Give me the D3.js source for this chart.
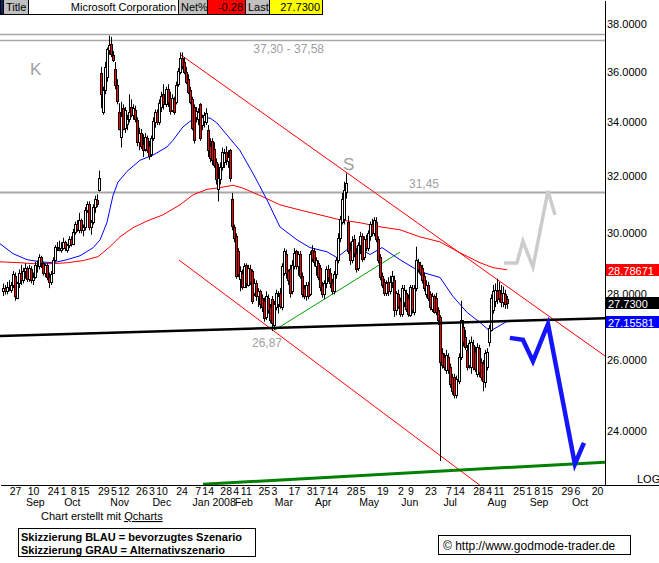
<!DOCTYPE html>
<html>
<head>
<meta charset="utf-8">
<script src="https://cdn.jsdelivr.net/npm/d3@7"></script>
<style>
  body { margin: 0; background: #fff; }
  svg { display: block; }
  text { font-family: "Liberation Sans", Arial, sans-serif; }
</style>
</head>
<body>
<svg id="chart" width="659" height="563"></svg>
<script>
// trading calendar
var firstDay = '2007-08-17';
var holidays = ['2007-09-03', '2007-11-22', '2007-12-25', '2008-01-01', '2008-01-21',
  '2008-02-18', '2008-03-21', '2008-05-26', '2008-07-04', '2008-09-01'];

// daily candles [open, high, low, close], one per trading day from firstDay
var candles = [
  [28.10,28.35,27.95,28.20],[28.20,28.30,28.00,28.10],[28.10,28.40,28.00,28.25],[28.25,28.45,28.10,28.20],
  [28.15,28.40,28.05,28.30],[28.30,28.75,28.20,28.65],[28.60,28.70,27.80,27.95],[27.90,28.40,27.85,28.35],
  [28.35,28.80,28.20,28.70],[28.70,28.95,28.30,28.45],[28.45,28.85,28.35,28.75],[28.75,29.00,28.50,28.85],
  [28.85,28.90,28.40,28.50],[28.50,28.95,28.40,28.85],[28.80,28.90,28.35,28.45],[28.45,28.70,28.30,28.55],
  [28.55,29.05,28.50,28.95],[28.95,29.10,28.70,28.90],[28.90,29.30,28.80,29.20],[29.20,29.25,28.85,29.00],
  [29.00,29.05,28.60,28.70],[28.70,29.00,28.55,28.95],[28.95,29.00,28.45,28.55],[28.55,28.70,28.20,28.40],
  [28.40,28.75,28.30,28.65],[28.70,29.20,28.65,29.10],[29.10,29.60,29.05,29.55],[29.55,29.70,29.40,29.50],
  [29.50,29.75,29.40,29.45],[29.45,29.70,29.35,29.50],[29.50,29.85,29.45,29.70],[29.70,29.75,29.40,29.50],
  [29.45,29.65,29.35,29.60],[29.60,29.90,29.50,29.80],[29.80,29.90,29.55,29.65],[29.65,30.15,29.60,30.05],
  [30.05,30.40,29.95,30.30],[30.30,30.45,30.05,30.15],[30.10,30.70,30.00,30.45],[30.45,30.50,30.00,30.10],
  [30.10,30.30,29.90,30.20],[30.20,30.90,30.10,30.80],[30.80,31.10,30.70,31.00],[31.00,31.10,30.10,30.20],
  [30.20,30.45,29.95,30.40],[30.40,31.00,30.30,30.90],[30.90,31.30,30.70,31.20],[31.15,31.35,30.90,31.00],
  [31.50,32.20,31.45,31.95],[35.95,36.20,34.55,35.10],[34.40,35.40,34.30,35.25],[35.25,36.40,35.10,36.20],
  [35.80,37.00,35.60,36.95],[36.90,37.50,36.70,37.10],[37.15,37.45,36.60,36.75],[36.70,36.85,36.40,36.50],
  [36.10,36.40,35.30,35.45],[35.45,35.70,34.70,34.85],[34.40,34.75,33.70,33.75],[33.45,34.80,33.05,34.25],
  [34.55,34.70,33.70,33.75],[33.80,34.60,33.60,34.50],[33.95,34.30,33.70,34.15],[34.15,35.10,34.00,34.40],
  [34.60,34.90,34.20,34.30],[34.30,34.70,34.10,34.55],[34.50,34.65,34.00,34.15],[34.10,34.20,33.10,33.25],
  [33.25,33.80,32.95,33.60],[33.60,33.75,33.00,33.10],[33.20,33.55,32.70,32.95],[33.00,33.60,32.90,33.45],
  [33.40,33.50,32.85,32.95],[33.10,33.30,32.60,32.75],[32.80,33.50,32.70,33.40],[33.40,34.20,33.30,34.05],
  [34.00,34.50,33.80,34.40],[34.40,34.50,33.90,34.00],[34.00,34.90,33.90,34.75],[34.60,35.20,34.40,35.05],
  [35.10,35.50,34.50,34.70],[34.70,35.40,34.60,35.30],[35.30,35.50,34.60,34.80],[34.95,35.20,34.30,34.45],
  [34.50,35.10,34.40,34.95],[34.90,35.00,34.30,34.40],[34.80,35.60,34.70,35.45],[35.50,36.15,35.40,36.05],
  [36.00,36.80,35.90,36.55],[36.55,36.80,36.10,36.25],[36.40,36.60,35.90,36.00],[36.00,36.20,35.50,35.60],
  [35.70,35.90,35.10,35.20],[35.25,35.40,34.70,34.80],[34.90,35.00,33.70,33.80],[34.60,34.70,33.20,33.35],
  [34.20,34.60,34.00,34.45],[34.15,34.55,33.90,34.40],[34.70,34.75,33.30,33.40],[33.90,34.30,33.70,34.20],
  [34.05,34.40,33.80,34.30],[34.00,34.55,33.90,34.35],[33.70,33.90,32.70,32.95],[33.10,33.40,32.50,32.65],
  [33.30,33.40,32.40,32.60],[33.00,33.25,32.30,32.40],[32.50,32.65,31.70,31.90],[31.55,32.45,31.10,31.95],
  [31.90,32.50,31.70,32.35],[32.35,33.05,32.20,32.90],[32.50,33.00,32.30,32.85],[32.90,33.10,32.40,32.60],
  [32.55,32.95,32.30,32.70],[32.95,33.00,31.80,31.95],[31.20,31.40,30.10,30.25],[30.20,30.30,29.70,29.85],
  [29.90,30.00,28.50,28.60],[29.40,29.50,28.55,28.65],[28.50,28.90,28.10,28.75],[28.70,28.80,28.15,28.25],
  [28.25,29.00,28.20,28.90],[28.95,29.00,28.20,28.35],[28.30,28.95,28.25,28.85],[28.80,28.95,28.30,28.40],
  [28.75,28.80,27.70,27.80],[28.05,28.50,27.95,28.35],[28.35,28.45,27.80,27.95],[27.95,28.20,27.60,28.10],
  [28.10,28.15,27.55,27.70],[27.90,28.00,27.45,27.60],[27.80,27.90,27.15,27.25],[27.30,28.10,27.20,27.95],
  [27.90,28.00,27.40,27.50],[27.60,27.70,27.10,27.20],[27.85,27.95,26.87,27.10],[27.05,27.80,26.90,27.70],
  [27.60,28.15,27.50,28.05],[27.70,28.10,27.40,27.95],[28.05,28.20,27.55,27.65],[27.60,29.00,27.50,28.90],
  [28.70,29.50,28.60,29.40],[29.30,29.45,28.50,28.70],[28.75,28.80,28.30,28.45],[28.80,28.95,27.90,28.05],
  [28.10,29.10,28.00,28.95],[28.90,29.50,28.80,29.35],[29.40,29.45,28.80,28.90],[28.90,29.40,28.60,29.30],
  [29.30,29.40,28.50,28.60],[28.60,28.70,27.90,28.00],[28.20,28.30,27.85,27.95],[27.95,28.40,27.80,28.30],
  [28.30,28.40,27.85,27.95],[28.00,29.40,27.95,29.30],[29.45,29.60,29.05,29.15],[29.40,29.50,28.90,29.05],
  [28.90,29.20,28.60,29.10],[29.00,29.10,28.45,28.55],[28.85,28.95,28.10,28.25],[28.30,28.40,27.90,28.00],
  [28.00,28.45,27.85,28.35],[28.35,28.90,28.20,28.80],[28.80,28.95,28.40,28.55],[28.70,28.85,28.20,28.35],
  [28.40,28.50,28.00,28.10],[28.10,28.75,28.00,28.65],[28.65,29.20,28.50,29.10],[29.10,30.00,29.00,29.85],
  [29.85,30.60,29.70,30.50],[30.40,31.40,30.30,31.20],[30.50,31.80,30.30,31.50],[31.45,32.10,31.20,31.75],
  [30.40,30.60,29.30,29.40],[29.45,29.70,28.95,29.10],[29.10,29.90,29.00,29.75],[29.80,29.95,29.20,29.35],
  [29.35,29.50,28.70,28.80],[28.85,29.70,28.75,29.60],[29.60,30.05,29.30,29.90],[29.90,30.00,29.05,29.15],
  [29.20,29.90,29.10,29.80],[29.80,29.95,29.40,29.50],[29.50,30.10,29.40,30.00],[29.90,30.40,29.75,30.30],
  [30.30,30.50,29.90,30.00],[30.00,30.55,29.90,30.45],[30.40,30.55,29.70,29.80],[29.80,29.90,29.00,29.10],
  [29.20,29.30,28.45,28.55],[28.60,28.70,28.20,28.30],[28.40,28.50,27.95,28.05],[28.05,28.45,27.95,28.35],
  [28.40,28.55,27.95,28.10],[28.10,28.60,28.00,28.40],[28.40,28.75,28.20,28.60],[28.45,28.60,27.30,27.50],
  [27.50,28.10,27.35,28.05],[28.00,28.15,27.55,27.65],[27.80,27.90,27.30,27.40],[27.40,28.30,27.30,28.20],
  [27.75,28.30,27.60,28.15],[28.05,28.15,27.45,27.55],[27.90,28.00,27.30,27.40],[27.35,28.30,27.30,28.25],
  [28.20,28.30,27.40,27.50],[27.45,28.30,27.35,28.20],[28.20,29.55,28.10,29.10],[29.05,29.15,28.70,28.80],
  [28.95,29.05,28.60,28.70],[28.85,28.95,28.35,28.45],[28.60,28.70,28.10,28.20],[28.00,28.45,27.90,28.30],
  [28.30,28.40,27.80,27.90],[28.00,28.10,27.50,27.60],[27.55,28.05,27.45,27.95],[27.95,28.00,27.40,27.45],
  [27.90,28.05,27.35,27.45],[27.50,27.60,27.05,27.20],[27.30,27.35,23.20,25.95],[26.20,26.35,25.75,25.85],
  [26.10,26.20,25.70,25.80],[25.70,26.30,25.60,26.15],[26.10,26.20,25.60,25.70],[25.80,25.90,25.20,25.30],
  [25.50,25.60,25.00,25.10],[25.50,25.60,24.90,25.00],[25.00,25.55,24.90,25.45],[25.40,26.20,25.30,26.10],
  [26.10,27.80,26.00,27.20],[27.00,27.20,26.40,26.55],[26.70,26.90,26.30,26.40],[26.30,26.45,25.70,25.80],
  [25.85,26.60,25.75,26.50],[25.80,26.70,25.60,26.55],[26.45,26.60,25.70,25.80],[26.25,26.40,25.65,25.75],
  [25.60,26.50,25.50,26.40],[26.35,26.45,25.50,25.65],[25.95,26.05,25.40,25.50],[25.90,26.00,25.10,25.40],
  [25.35,26.30,25.20,26.20],[25.80,26.35,25.70,26.25],[26.55,27.05,26.40,26.95],[26.90,28.00,26.85,27.90],
  [27.50,28.30,27.40,28.10],[27.80,28.35,27.60,28.15],[28.10,28.50,27.70,27.85],[28.15,28.40,27.75,27.90],
  [28.05,28.30,27.60,27.75],[27.75,28.25,27.60,28.05],[28.00,28.15,27.55,27.70],[27.85,27.95,27.55,27.73]
];

// moving averages, [trading day, value]
var blueAverage = [[-1.5,29.65],[5,29.32],[12,29.12],[18.5,29.05],[25,29.02],[32,29.12],[38.4,29.25],
  [45,29.52],[48.4,29.78],[51.8,30.36],[54.8,31.30],[57.3,31.78],[61.8,32.17],[68.3,32.58],[74.8,32.77],
  [81.7,33.07],[84.7,33.32],[89.7,33.83],[94.7,34.13],[99.7,34.17],[103.2,34.17],[106.6,33.98],
  [118,32.95],[124.6,32.10],[131.6,31.15],[138,30.22],[146.5,29.78],[153,29.52],[161.5,29.38],
  [166.4,29.19],[171.4,29.45],[176.4,29.55],[182.9,29.29],[188.9,29.52],[197.8,29.12],[207.8,28.73],
  [217.8,28.54],[224.2,27.94],[231.2,27.44],[237.7,27.13],[242.7,26.86],[251.1,27.16]];
var redAverage = [[-1.5,29.05],[8.5,29.02],[15,28.99],[25,28.99],[32,29.02],[40,29.09],[47.4,29.22],
  [53.3,29.55],[58.3,29.88],[64.8,30.19],[71.8,30.42],[79.7,30.63],[88.2,30.98],[94.7,31.33],
  [101.7,31.53],[106.6,31.57],[114.6,31.67],[119.6,31.57],[129.6,31.26],[138,30.98],[148,30.80],
  [158,30.63],[168,30.46],[177.9,30.36],[187.9,30.22],[197.8,30.12],[207.8,29.88],[217.8,29.71],
  [227.7,29.35],[237.7,29.02],[244.2,28.86],[251.1,28.79]];

// drawn trend lines, [trading day, price]
var supportLine = [[-1.47,26.72],[300,27.26]];
var channelTop = [[88.7,36.69],[300,26.12]];
var channelBottom = [[87.7,29.11],[242.7,22.38]];
var risingLine = [[135.5,26.90],[197.8,29.37]];
var longSupport = [[99.7,22.60],[300,23.17]];
var levels = [37.58, 37.30, 31.45];

// scenarios
var blueScenario = [[252.6,26.66],[259.1,26.60],[264.1,25.97],[271.6,27.08],[285,23.12],[289.5,23.68]];
var greyScenario = [[249.6,29.01],[256.1,29.01],[259.1,29.74],[264.1,28.88],[271.6,31.47],[275.1,30.63]];

// axes
var priceTicks = [38, 36, 34, 32, 30, 28, 26, 24];
var dayTicks = ['2007-08-27','2007-09-10','2007-09-24','2007-10-01','2007-10-08','2007-10-15',
  '2007-10-29','2007-11-05','2007-11-12','2007-11-26','2007-12-03','2007-12-10','2007-12-24',
  '2008-01-07','2008-01-14','2008-01-28','2008-02-04','2008-02-11','2008-02-25','2008-03-03',
  '2008-03-17','2008-03-31','2008-04-07','2008-04-14','2008-04-28','2008-05-05','2008-05-19',
  '2008-06-02','2008-06-09','2008-06-23','2008-07-07','2008-07-14','2008-07-28','2008-08-04',
  '2008-08-11','2008-08-25','2008-09-01','2008-09-08','2008-09-15','2008-09-29','2008-10-06','2008-10-20'];
var monthStarts = ['2007-09-01','2007-10-01','2007-11-01','2007-12-01','2008-01-01','2008-02-01','2008-03-01',
  '2008-04-01','2008-05-01','2008-06-01','2008-07-01','2008-08-01','2008-09-01','2008-10-01'];
var monthNames = ['Sep','Oct','Nov','Dec','Jan 2008','Feb','Mar','Apr','May','Jun','Jul','Aug','Sep','Oct'];

var markerValues = [28.78671, 27.73, 27.15581];
var markerLabels = ['28.78671', '27.7300', '27.15581'];
var markerColors = ['#ff0000', '#000000', '#0000ff'];

var headerCells = [
  {x: 0, w: 3, fill: '#0a246a', text: ''},
  {x: 3, w: 25, fill: '#c0c0c0', text: 'Title', anchor: 'start'},
  {x: 28, w: 150, fill: '#ffffff', text: 'Microsoft Corporation', anchor: 'end'},
  {x: 178, w: 29, fill: '#c0c0c0', text: 'Net%', anchor: 'start'},
  {x: 207, w: 38, fill: '#ff0000', text: '-0.28', anchor: 'end'},
  {x: 245, w: 24, fill: '#c0c0c0', text: 'Last', anchor: 'start'},
  {x: 269, w: 53, fill: '#ffff00', text: '27.7300', anchor: 'end'}
];

var parseDay = d3.utcParse('%Y-%m-%d');
var fmtDay = d3.utcFormat('%Y-%m-%d');
var days = [];
for (var d = parseDay(firstDay); days.length < 330; d = d3.utcDay.offset(d, 1)) {
  var wd = d.getUTCDay();
  if (wd === 0 || wd === 6 || holidays.indexOf(fmtDay(d)) >= 0) continue;
  days.push(d);
}
var posOf = function(s) {
  var t = parseDay(s);
  return days.findIndex(function(day) { return day >= t; });
};

var plotW = 605, plotH = 485;
var svg = d3.select('#chart');
var x = d3.scaleLinear().domain([-1.47, 300]).range([0, plotW]);
var y = d3.scaleLog().domain([22.58, 39.04]).range([plotH, 0]);

svg.append('defs').append('clipPath').attr('id', 'plot')
  .append('rect').attr('width', plotW).attr('height', plotH);

var plot = svg.append('g').attr('clip-path', 'url(#plot)');
var line = d3.line().x(function(p) { return x(p[0]); }).y(function(p) { return y(p[1]); });

// horizontal levels
plot.selectAll('.level').data(levels).enter().append('line')
  .attr('x1', 0).attr('x2', plotW)
  .attr('y1', function(v) { return Math.round(y(v)) + 0.5; })
  .attr('y2', function(v) { return Math.round(y(v)) + 0.5; })
  .attr('stroke', '#a8a8a8')
  .attr('stroke-width', function(v, i) { return i == 2 ? 2 : 1.5; });

// thin lines behind the candles
[[channelTop, '#ff0000'], [channelBottom, '#ff0000'], [risingLine, '#00a000'],
 [redAverage, '#ff0000'], [blueAverage, '#0000ff']].forEach(function(l) {
  plot.append('path').datum(l[0])
    .attr('d', line)
    .attr('fill', 'none').attr('stroke', l[1]).attr('stroke-width', 1);
});

// candles
var bars = plot.selectAll('.bar').data(candles).enter().append('g').attr('class', 'bar');
bars.append('line')
  .attr('x1', function(c, i) { return Math.round(x(i)) + 0.5; })
  .attr('x2', function(c, i) { return Math.round(x(i)) + 0.5; })
  .attr('y1', function(c) { return y(c[1]); })
  .attr('y2', function(c) { return y(c[2]); })
  .attr('stroke', '#000').attr('stroke-width', 1);
bars.append('rect')
  .attr('x', function(c, i) { return Math.round(x(i)) - 0.5; })
  .attr('y', function(c) { return Math.round(y(Math.max(c[0], c[3]))) + 0.5; })
  .attr('width', 2)
  .attr('height', function(c) {
    return Math.max(1, Math.round(y(Math.min(c[0], c[3]))) - Math.round(y(Math.max(c[0], c[3]))));
  })
  .attr('fill', function(c) { return c[3] >= c[0] ? '#ffffff' : '#ff0000'; })
  .attr('stroke', '#000').attr('stroke-width', 1)
  .attr('shape-rendering', 'crispEdges');

// thick lines on top
plot.append('path').datum(supportLine).attr('d', line)
  .attr('fill', 'none').attr('stroke', '#000').attr('stroke-width', 2.5);
plot.append('path').datum(longSupport).attr('d', line)
  .attr('fill', 'none').attr('stroke', '#008000').attr('stroke-width', 3);

// scenarios
plot.append('path').datum(greyScenario).attr('d', line)
  .attr('fill', 'none').attr('stroke', '#cccccc').attr('stroke-width', 3.5);
plot.append('path').datum(blueScenario).attr('d', line)
  .attr('fill', 'none').attr('stroke', '#1414ff').attr('stroke-width', 4.5);

// annotations
var grey = '#a0a0a0';
plot.append('text').attr('x', 324).attr('y', 53).attr('text-anchor', 'end')
  .attr('font-size', 12).attr('fill', grey).text('37,30 - 37,58');
plot.append('text').attr('x', 30).attr('y', 75)
  .attr('font-size', 17).attr('fill', grey).text('K');
plot.append('text').attr('x', 343).attr('y', 170)
  .attr('font-size', 17).attr('fill', grey).text('S');
plot.append('text').attr('x', 409).attr('y', 188)
  .attr('font-size', 12).attr('fill', grey).text('31,45');
plot.append('text').attr('x', 252).attr('y', 347)
  .attr('font-size', 12).attr('fill', grey).text('26,87');

// price axis on the right
var yAxis = svg.append('g').attr('transform', 'translate(' + plotW + ',0)')
  .call(d3.axisRight(y).tickValues(priceTicks).tickFormat(d3.format('.4f'))
    .tickSize(0).tickSizeOuter(0).tickPadding(2));
yAxis.select('.domain').attr('stroke', '#000').attr('shape-rendering', 'crispEdges');
yAxis.selectAll('text').attr('font-size', 11).attr('font-family', '"Liberation Sans", Arial, sans-serif');

// marker boxes
markerValues.forEach(function(v, i) {
  var yy = Math.round(y(v));
  svg.append('rect').attr('x', 606).attr('y', yy - 6).attr('width', 53).attr('height', 12)
    .attr('fill', markerColors[i]);
  svg.append('text').attr('x', 608).attr('y', yy + 4.5)
    .attr('font-size', 11).attr('fill', '#fff').text(markerLabels[i]);
});

// date axis
var tickLabel = {};
dayTicks.forEach(function(s) { tickLabel[posOf(s)] = String(+s.slice(8)); });
var xAxis = svg.append('g').attr('transform', 'translate(0,' + plotH + ')')
  .call(d3.axisBottom(x).tickValues(dayTicks.map(posOf))
    .tickFormat(function(p) { return tickLabel[p]; })
    .tickSize(0).tickSizeOuter(0).tickPadding(3));
xAxis.select('.domain').attr('stroke', '#000').attr('shape-rendering', 'crispEdges');
xAxis.selectAll('text').attr('font-size', 10.5).attr('font-family', '"Liberation Sans", Arial, sans-serif');
svg.append('line').attr('x1', plotW).attr('x2', 659).attr('y1', plotH + 0.5).attr('y2', plotH + 0.5)
  .attr('stroke', '#000');

svg.selectAll('.month').data(monthStarts).enter().append('text')
  .attr('x', function(s) { return x(posOf(s)) + 1; })
  .attr('y', 506)
  .attr('font-size', 10.5)
  .text(function(s, i) { return monthNames[i]; });

svg.append('text').attr('x', 637).attr('y', 483).attr('font-size', 11).text('LOG');

// header
var head = svg.append('g');
headerCells.forEach(function(c) {
  head.append('rect').attr('x', c.x + 0.5).attr('y', -0.5).attr('width', c.w).attr('height', 14.5)
    .attr('fill', c.fill).attr('stroke', '#000').attr('shape-rendering', 'crispEdges');
  if (c.text) {
    head.append('text')
      .attr('x', c.anchor == 'end' ? c.x + c.w - 2 : c.x + 3)
      .attr('y', 11).attr('text-anchor', c.anchor)
      .attr('font-size', 11).text(c.text);
  }
});

// footer
var credit = svg.append('text').attr('x', 41).attr('y', 520).attr('font-size', 11);
credit.append('tspan').text('Chart erstellt mit ');
credit.append('tspan').attr('text-decoration', 'underline').text('Qcharts');

svg.append('rect').attr('x', 18.5).attr('y', 528.5).attr('width', 237).attr('height', 28)
  .attr('fill', 'none').attr('stroke', '#000');
svg.append('text').attr('x', 21).attr('y', 541).attr('font-size', 11).attr('font-weight', 'bold')
  .text('Skizzierung BLAU = bevorzugtes Szenario');
svg.append('text').attr('x', 21).attr('y', 554).attr('font-size', 11).attr('font-weight', 'bold')
  .text('Skizzierung GRAU = Alternativszenario');

svg.append('rect').attr('x', 438.5).attr('y', 535.5).attr('width', 192).attr('height', 19)
  .attr('fill', 'none').attr('stroke', '#000');
svg.append('text').attr('x', 443).attr('y', 550).attr('font-size', 12)
  .text('\u00a9 http://www.godmode-trader.de');
</script>
</body>
</html>
